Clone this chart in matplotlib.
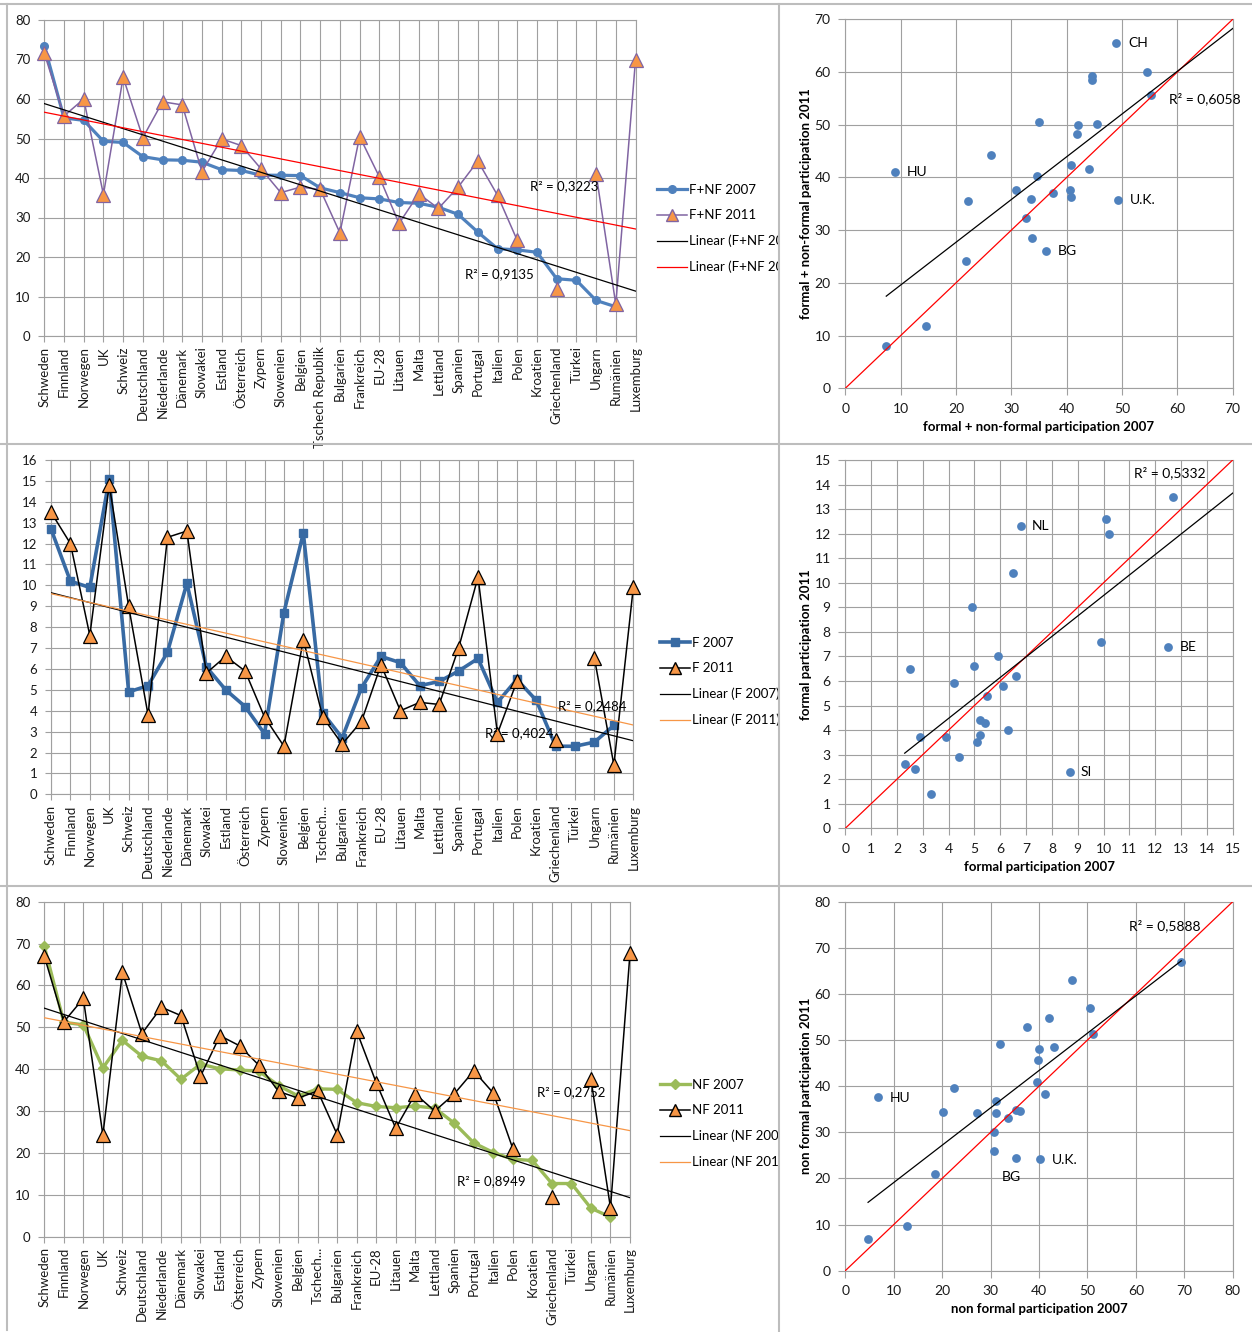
import numpy as np
import matplotlib.pyplot as plt
from matplotlib.lines import Line2D
from matplotlib.transforms import Bbox, TransformedBbox

plt.rcParams['font.family'] = ['Lato', 'DejaVu Sans']

W, H = 1252, 1332
nan = np.nan

# categories
countries = ['Schweden', 'Finnland', 'Norwegen', 'UK', 'Schweiz', 'Deutschland',
             'Niederlande', 'Dänemark', 'Slowakei', 'Estland', 'Österreich', 'Zypern',
             'Slowenien', 'Belgien', 'Tschech Republik', 'Bulgarien', 'Frankreich',
             'EU-28', 'Litauen', 'Malta', 'Lettland', 'Spanien', 'Portugal', 'Italien',
             'Polen', 'Kroatien', 'Griechenland', 'Türkei', 'Ungarn', 'Rumänien',
             'Luxemburg']
countries_short = [c if c != 'Tschech Republik' else 'Tschech...' for c in countries]

# formal + non-formal
fnf_2007 = [73.5, 55.2, 54.6, 49.3, 49.0, 45.4, 44.6, 44.5, 44.0, 42.1, 41.9, 40.7,
            40.7, 40.6, 37.5, 36.3, 35.0, 34.7, 33.8, 33.6, 32.6, 30.8, 26.3, 22.1,
            21.8, 21.2, 14.5, 14.1, 9.0, 7.4, nan]
fnf_2011 = [71.6, 55.7, 60.0, 35.8, 65.5, 50.2, 59.3, 58.5, 41.6, 49.9, 48.2, 42.3,
            36.3, 37.7, 37.1, 26.1, 50.5, 40.3, 28.5, 36.0, 32.3, 37.7, 44.3, 35.6,
            24.2, nan, 11.8, nan, 41.1, 8.0, 69.9]

# formal
f_2007 = [12.7, 10.2, 9.9, 15.1, 4.9, 5.2, 6.8, 10.1, 6.1, 5.0, 4.2, 2.9, 8.7, 12.5,
          3.9, 2.7, 5.1, 6.6, 6.3, 5.2, 5.4, 5.9, 6.5, 4.4, 5.5, 4.5, 2.3, 2.3, 2.5,
          3.3, nan]
f_2011 = [13.5, 12.0, 7.6, 14.8, 9.0, 3.8, 12.3, 12.6, 5.8, 6.6, 5.9, 3.7, 2.3, 7.4,
          3.7, 2.4, 3.5, 6.2, 4.0, 4.4, 4.3, 7.0, 10.4, 2.9, 5.4, nan, 2.6, nan, 6.5,
          1.4, 9.9]

# non formal
nf_2007 = [69.4, 51.2, 50.6, 40.3, 46.9, 43.1, 42.0, 37.6, 41.2, 40.1, 39.8, 39.5,
           36.1, 33.6, 35.3, 35.2, 32.0, 31.1, 30.8, 31.2, 30.7, 27.1, 22.4, 20.1,
           18.5, 18.2, 12.7, 12.7, 6.8, 4.7, nan]
nf_2011 = [67.0, 51.3, 56.9, 24.3, 63.1, 48.5, 54.8, 52.8, 38.3, 48.0, 45.6, 40.9,
           34.7, 33.1, 34.8, 24.4, 49.1, 36.8, 25.9, 34.1, 30.0, 34.1, 39.6, 34.3,
           21.0, nan, 9.6, nan, 37.6, 6.9, 67.7]

GRID = '#A0A0A0'
ORANGE = '#F79646'

fig = plt.figure(figsize=(W / 100, H / 100), dpi=100)


def px_axes(left, top, right, bottom):
    return fig.add_axes([left / W, 1 - bottom / H, (right - left) / W, (bottom - top) / H])


def style_axes(ax, size):
    ax.grid(True, color=GRID, lw=0.8)
    ax.set_axisbelow(True)
    for s in ax.spines.values():
        s.set_color(GRID)
        s.set_linewidth(0.8)
    ax.tick_params(colors=GRID, labelcolor='#1a1a1a', labelsize=size, length=4, width=0.8)


def trend(x, y):
    x = np.asarray(x, float)
    y = np.asarray(y, float)
    ok = ~np.isnan(x) & ~np.isnan(y)
    return np.polyfit(x[ok], y[ok], 1)


def line_panel(box, labels, s07, s11, ymax, ystep, c07, m07, ms07, lw07,
               line11, edge11, tc07, tc11, names, leg_xy, r2a, r2b):
    ax = px_axes(*box)
    x = np.arange(len(labels))
    ax.plot(x, s07, color=c07, lw=lw07, marker=m07, ms=ms07, mfc=c07, mec=c07,
            zorder=4, clip_on=False)
    ax.plot(x, s11, color=line11, lw=1.1, marker='^', ms=10, mfc=ORANGE, mec=edge11,
            mew=0.9, zorder=5, clip_on=False)
    xs = np.array([0, len(labels) - 1])
    p07 = trend(x, s07)
    p11 = trend(x, s11)
    ax.plot(xs, np.polyval(p07, xs), color=tc07, lw=0.9, zorder=6)
    ax.plot(xs, np.polyval(p11, xs), color=tc11, lw=0.9, zorder=6)
    ax.text(r2a[0], r2a[1], r2a[2], ha='center', va='center', fontsize=9.5, zorder=7)
    ax.text(r2b[0], r2b[1], r2b[2], ha='center', va='center', fontsize=9.5, zorder=7)

    ax.set_xlim(0, len(labels) - 1)
    ax.set_ylim(0, ymax)
    ax.set_xticks(x)
    ax.set_xticklabels(labels, rotation=90)
    ax.set_yticks(np.arange(0, ymax + 0.01, ystep))
    style_axes(ax, 9.5)
    ax.tick_params(axis='y', pad=6)
    ax.tick_params(axis='x', pad=3.5)

    handles = [
        Line2D([], [], color=c07, lw=lw07, marker=m07, ms=ms07, mfc=c07, mec=c07),
        Line2D([], [], color=line11, lw=1.1, marker='^', ms=8, mfc=ORANGE, mec=edge11),
        Line2D([], [], color=tc07, lw=0.9),
        Line2D([], [], color=tc11, lw=0.9),
    ]
    leg = ax.legend(handles, names, loc='center left',
                    bbox_to_anchor=(leg_xy[0] / W, 1 - leg_xy[1] / H),
                    bbox_transform=fig.transFigure, frameon=False, fontsize=9.5,
                    handlelength=2.3, handletextpad=0.15, labelspacing=1.02,
                    borderpad=0, borderaxespad=0)
    clip = TransformedBbox(Bbox([[0, 0], [778 / W, 1]]), fig.transFigure)
    for t in leg.get_texts():
        t.set_clip_box(clip)
        t.set_clip_on(True)
    return ax


def scatter_panel(box, xv, yv, lim, step, xlabel, ylabel, tags, r2):
    ax = px_axes(*box)
    xv = np.asarray(xv, float)
    yv = np.asarray(yv, float)
    ok = ~np.isnan(xv) & ~np.isnan(yv)
    # points beyond the axis range are hidden, but still count for the fit
    shown = ok & (xv <= lim) & (yv <= lim)
    ax.scatter(xv[shown], yv[shown], s=40, color='#4F81BD', zorder=3, linewidths=0)
    ax.plot([0, lim], [0, lim], color='#FF0000', lw=0.9, zorder=4)
    p = trend(xv, yv)
    xs = np.array([xv[ok].min(), min(xv[ok].max(), lim)])
    ax.plot(xs, np.polyval(p, xs), color='black', lw=0.9, zorder=4)
    for name, tx, ty in tags:
        ax.text(tx, ty, name, ha='left', va='center', fontsize=10, zorder=5)
    ax.text(r2[0], r2[1], r2[2], ha='center', va='center', fontsize=10, zorder=5)

    ax.set_xlim(0, lim)
    ax.set_ylim(0, lim)
    ax.set_xticks(np.arange(0, lim + 0.01, step))
    ax.set_yticks(np.arange(0, lim + 0.01, step))
    style_axes(ax, 10)
    ax.tick_params(length=5, pad=5.5)
    ax.set_xlabel(xlabel, fontsize=9.5, fontweight='bold')
    ax.set_ylabel(ylabel, fontsize=9.5, fontweight='bold')
    ax.xaxis.set_label_coords(0.5, -0.088)
    ax.yaxis.set_label_coords(-0.085, 0.5)
    return ax


# left column: line charts
line_panel((44.3, 20, 635.5, 336), countries, fnf_2007, fnf_2011, 80, 10,
           '#4F81BD', 'o', 5.5, 2.3, '#8064A2', '#8064A2', 'black', '#FF0000',
           ['F+NF 2007', 'F+NF 2011', 'Linear (F+NF 2007)', 'Linear (F+NF 2011)'],
           (657, 228.5), (26.4, 38.0, 'R² = 0,3223'), (23.1, 15.7, 'R² = 0,9135'))

line_panel((51, 460, 633.3, 794.3), countries_short, f_2007, f_2011, 16, 1,
           '#386AA3', 's', 6, 2.6, 'black', 'black', 'black', ORANGE,
           ['F 2007', 'F 2011', 'Linear (F 2007)', 'Linear (F 2011)'],
           (660, 681.5), (27.9, 4.22, 'R² = 0,2484'), (24.1, 2.94, 'R² = 0,4024'))

line_panel((44.3, 901.7, 630, 1236.7), countries_short, nf_2007, nf_2011, 80, 10,
           '#9BBB59', 'D', 5, 2.4, 'black', 'black', 'black', ORANGE,
           ['NF 2007', 'NF 2011', 'Linear (NF 2007)', 'Linear (NF 2011)'],
           (660, 1123.5), (27.0, 34.6, 'R² = 0,2752'), (22.9, 13.3, 'R² = 0,8949'))

# right column: scatter 2007 vs 2011
scatter_panel((845.3, 19.3, 1232.7, 388.3), fnf_2007, fnf_2011, 70, 10,
              'formal + non-formal participation 2007',
              'formal + non-formal participation 2011',
              [('CH', 51.1, 65.5), ('HU', 11.1, 41.1), ('U.K.', 51.4, 35.8), ('BG', 38.4, 26.0)],
              (65.0, 54.9, 'R² = 0,6058'))

scatter_panel((845.3, 460, 1232.7, 828.3), f_2007, f_2011, 15, 1,
              'formal participation 2007', 'formal participation 2011',
              [('NL', 7.23, 12.3), ('BE', 12.96, 7.4), ('SI', 9.12, 2.3)],
              (12.57, 14.47, 'R² = 0,5332'))

scatter_panel((845.3, 901.7, 1232.7, 1270.7), nf_2007, nf_2011, 80, 10,
              'non formal participation 2007', 'non formal participation 2011',
              [('HU', 9.2, 37.4), ('U.K.', 42.7, 24.0), ('BG', 32.4, 20.3)],
              (66.0, 74.7, 'R² = 0,5888'))

# panel borders
border = dict(color='#BDBDBD', lw=1.5, transform=fig.transFigure)
for py in [4, 444, 886]:
    fig.add_artist(Line2D([0, 1], [1 - py / H, 1 - py / H], **border))
fig.add_artist(Line2D([7 / W, 7 / W], [1 - 4 / H, 1 - 1330 / H], **border))
fig.add_artist(Line2D([778.7 / W, 778.7 / W], [0, 1 - 4 / H], **border))

fig.savefig('out.png', dpi=100)
